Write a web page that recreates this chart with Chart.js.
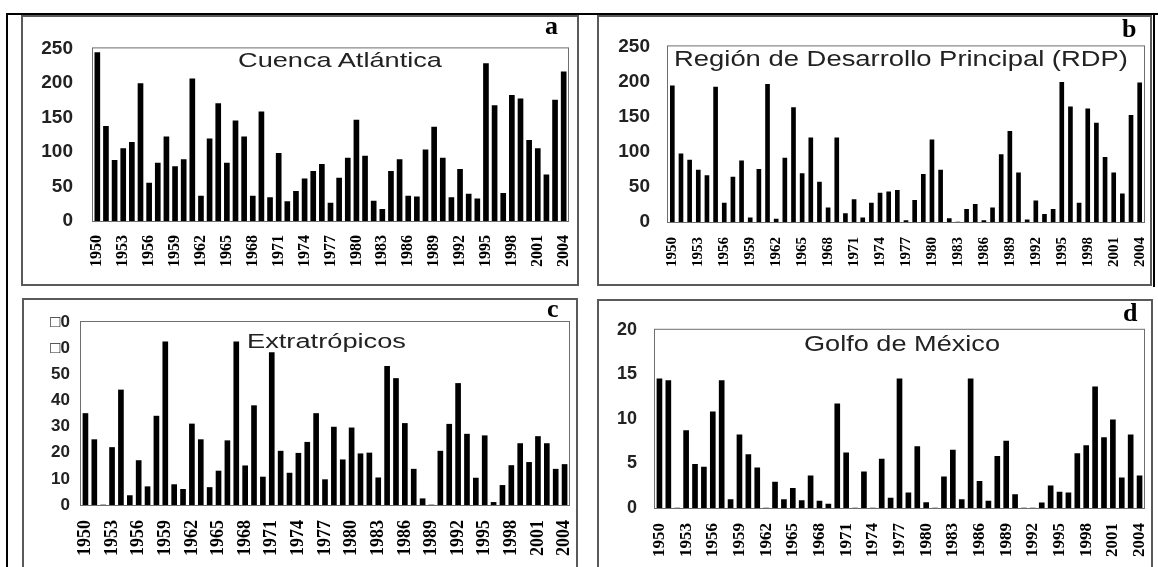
<!DOCTYPE html>
<html><head><meta charset="utf-8">
<script src="https://cdn.jsdelivr.net/npm/chart.js@4.4.1/dist/chart.umd.min.js"></script>
<style>
html,body{margin:0;padding:0;background:#fff;}
body{width:1158px;height:567px;overflow:hidden;position:relative;}
.abs{position:absolute;box-sizing:border-box;}
.frame{border:2px solid #5a5a5a;}
.blk{background:#000;}
canvas{position:absolute;}
.ttl{position:absolute;font-family:'Liberation Sans',Arial,sans-serif;color:#222;white-space:nowrap;line-height:1;transform-origin:0 0;}
.let{position:absolute;font-family:'Liberation Serif','Times New Roman',serif;font-weight:bold;color:#000;line-height:1;white-space:nowrap;}
</style></head><body>
<div class="abs blk" style="left:6px;top:13px;width:1152px;height:2px;"></div>
<div class="abs blk" style="left:6px;top:13px;width:2px;height:554px;"></div>
<div class="abs blk" style="left:1153px;top:13px;width:2px;height:274px;"></div>
<div class="abs frame" style="left:21px;top:15px;width:558px;height:271px;"></div>
<div class="abs frame" style="left:597px;top:15px;width:555px;height:271px;"></div>
<div class="abs frame" style="left:22px;top:298px;width:556px;height:300px;"></div>
<div class="abs frame" style="left:597px;top:299px;width:556px;height:300px;"></div>
<canvas id="ca"></canvas>
<canvas id="cb"></canvas>
<canvas id="cc"></canvas>
<canvas id="cd"></canvas>
<div class="ttl" id="ta">Cuenca Atlántica</div>
<div class="ttl" id="tb">Región de Desarrollo Principal (RDP)</div>
<div class="ttl" id="tc">Extratrópicos</div>
<div class="ttl" id="td">Golfo de México</div>
<div class="let" id="la">a</div>
<div class="let" id="lb">b</div>
<div class="let" id="lc">c</div>
<div class="let" id="ld">d</div>
<script>
const years = ['1950','1951','1952','1953','1954','1955','1956','1957','1958','1959',
  '1960','1961','1962','1963','1964','1965','1966','1967','1968','1969',
  '1970','1971','1972','1973','1974','1975','1976','1977','1978','1979',
  '1980','1981','1982','1983','1984','1985','1986','1987','1988','1989',
  '1990','1991','1992','1993','1994','1995','1996','1997','1998','1999',
  '2000','2001','2002','2003','2004'];
const xTickLabels = ['1950','1953','1956','1959','1962','1965','1968','1971','1974','1977',
  '1980','1983','1986','1989','1992','1995','1998','2001','2004'];

const atlantica = [244,137,88,105,114,199,55,84,122,79,
  89,206,36,119,170,84,145,122,36,158,
  34,98,28,43,61,72,82,26,62,91,
  146,94,29,17,72,89,36,35,103,136,
  91,34,75,39,32,228,167,40,182,177,
  117,105,67,175,216];
const rdp = [194,97,88,74,66,192,27,64,87,6,
  75,196,4,91,163,69,120,57,20,120,
  12,32,6,27,41,43,45,2,31,68,
  117,74,5,0,18,25,2,20,96,129,
  70,3,30,11,18,199,164,27,161,141,
  92,70,40,152,198];
const extratropicos = [35,25,0,22,44,3.6,17,7,34,62.4,
  7.8,6,31,25,6.7,13,24.6,62.4,15,38,
  10.7,58.3,20.6,12.2,19.8,24,35,9.7,29.8,17.3,
  29.5,19.6,19.9,10.4,53,48.4,31.2,13.7,2.4,0,
  20.6,30.9,46.5,27.1,10.3,26.5,1,7.5,15.1,23.5,
  16.3,26.2,23.5,13.7,15.5];
const golfo = [14.5,14.3,0,8.7,4.9,4.6,10.8,14.3,0.95,8.2,
  6.0,4.5,0,2.9,0.95,2.2,0.84,3.6,0.77,0.44,
  11.7,6.2,0,4.05,0,5.5,1.1,14.5,1.7,6.9,
  0.6,0,3.5,6.5,0.95,14.5,3.0,0.77,5.8,7.5,
  1.5,0,0,0.58,2.5,1.8,1.7,6.1,7.0,13.6,
  7.9,9.9,3.4,8.2,3.6];

const yTicksAB = [0,50,100,150,200,250];
const yLabelsAB = ['0','50','100','150','200','250'];
const yTicksC = [0,10,20,30,40,50,60,70];
const yLabelsC = ['0','10','20','30','40','50','\u25A10','\u25A10'];
const yTicksD = [0,5,10,15,20];
const yLabelsD = ['0','5','10','15','20'];

const plotFrame = {
  id: 'plotFrame',
  afterDatasetsDraw(chart) {
    const a = chart.chartArea, ctx = chart.ctx;
    ctx.save();
    ctx.strokeStyle = '#6e6e6e';
    ctx.lineWidth = 1;
    ctx.strokeRect(a.left - 0.5, a.top - 0.5, a.right - a.left + 1, a.bottom - a.top + 1);
    ctx.restore();
  }
};

const panels = [
  {id:'ca', data:atlantica, ticks:yTicksAB, labels:yLabelsAB, max:250, step:50,
   cv:{l:23,t:17,w:554,h:268}, area:{l:93,r:568,t:39,b:221}, xH:50, yPad:20, xPad:14, bar:5, yF:19, xF:16},
  {id:'cb', data:rdp, ticks:yTicksAB, labels:yLabelsAB, max:250, step:50,
   cv:{l:599,t:17,w:551,h:268}, area:{l:668,r:1144,t:39,b:222}, xH:50, yPad:18, xPad:15, bar:4, yF:19, xF:15},
  {id:'cc', data:extratropicos, ticks:yTicksC, labels:yLabelsC, max:70, step:10,
   cv:{l:24,t:300,w:552,h:267}, area:{l:81,r:569,t:322,b:505}, xH:58, yPad:11, xPad:15, bar:5, yF:17, xF:18},
  {id:'cd', data:golfo, ticks:yTicksD, labels:yLabelsD, max:20, step:5,
   cv:{l:599,t:301,w:551,h:266}, area:{l:655,r:1144,t:325,b:508}, xH:56, yPad:18, xPad:15, bar:5, yF:18, xF:17}
];

panels.forEach(p => {
  const c = document.getElementById(p.id);
  c.width = p.cv.w; c.height = p.cv.h;
  c.style.left = p.cv.l + 'px'; c.style.top = p.cv.t + 'px';
  c.style.width = p.cv.w + 'px'; c.style.height = p.cv.h + 'px';
  const yW = p.area.l - p.cv.l;
  const padTop = p.area.t - p.cv.t;
  const padRight = (p.cv.l + p.cv.w) - p.area.r;
  const padBottom = Math.max(0, (p.cv.t + p.cv.h) - p.area.b - p.xH);
  const xH = (p.cv.t + p.cv.h) - p.area.b - padBottom;
  new Chart(c, {
    type: 'bar',
    data: { labels: years, datasets: [{ data: p.data, backgroundColor: '#000', borderWidth: 0,
      barThickness: p.bar, categoryPercentage: 1 }] },
    options: {
      responsive: false, animation: false, devicePixelRatio: 1,
      layout: { padding: { left: 0, top: padTop, right: padRight, bottom: padBottom } },
      plugins: { legend: { display: false }, tooltip: { enabled: false }, title: { display: false } },
      scales: {
        x: {
          grid: { display: false, drawTicks: false },
          border: { display: false },
          ticks: {
            autoSkip: false, maxRotation: 90, minRotation: 90, padding: p.xPad,
            color: '#000', font: { family: "'Liberation Serif','Times New Roman',serif", weight: 'bold', size: p.xF },
            callback: function(v) { const lab = this.getLabelForValue(v); return xTickLabels.includes(lab) ? lab : ''; }
          },
          afterFit: s => { s.height = xH; s.paddingLeft = 0; s.paddingRight = 0; }
        },
        y: {
          min: 0, max: p.max,
          grid: { display: false, drawTicks: false },
          border: { display: false },
          ticks: {
            stepSize: p.step, padding: p.yPad, color: '#222',
            font: { family: "'Liberation Sans',Arial,sans-serif", weight: 'bold', size: p.yF },
            callback: v => { const i = p.ticks.indexOf(v); return i >= 0 ? p.labels[i] : ''; }
          },
          afterFit: s => { s.width = yW; }
        }
      }
    },
    plugins: [plotFrame]
  });
});

function placeTitle(id, left, baseline, size, width) {
  const el = document.getElementById(id);
  el.style.fontSize = size + 'px';
  el.style.left = left + 'px';
  el.style.top = (baseline - 0.8465 * size) + 'px';
  const w = el.getBoundingClientRect().width;
  el.style.transform = 'scaleX(' + (width / w) + ')';
}
function placeLetter(id, left, baseline, size) {
  const el = document.getElementById(id);
  el.style.fontSize = size + 'px';
  el.style.left = left + 'px';
  el.style.top = (baseline - 0.8375 * size) + 'px';
}
placeTitle('ta', 238, 67, 21, 204);
placeTitle('tb', 674, 67, 22, 454);
placeTitle('tc', 247, 348, 20, 159);
placeTitle('td', 804, 352, 22, 196);
placeLetter('la', 545, 35, 26);
placeLetter('lb', 1122, 38, 26);
placeLetter('lc', 547, 318, 26);
placeLetter('ld', 1123, 322, 26);
</script>
</body></html>
